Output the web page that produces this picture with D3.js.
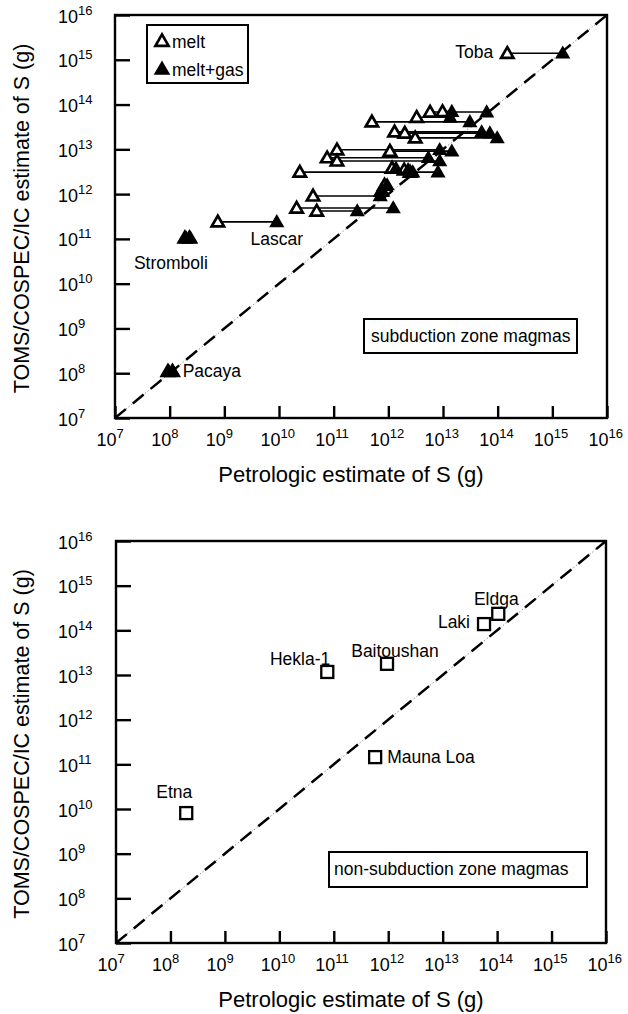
<!DOCTYPE html>
<html><head><meta charset="utf-8">
<script src="https://cdn.jsdelivr.net/npm/d3@7"></script>
<style>
body{margin:0;background:#fff}
text{font-family:"Liberation Sans",Arial,Helvetica,sans-serif;fill:#000}
</style>
</head><body>
<svg id="c" width="628" height="1014"></svg>
<script>
// ---------- data ----------
const decades = [7,8,9,10,11,12,13,14,15,16];
const xTitle = "Petrologic estimate of S (g)";
const yTitle = "TOMS/COSPEC/IC estimate of S (g)";

// subduction zone magmas: melt (open), melt+gas (filled), TOMS/COSPEC/IC estimate
const subNames   = ["Toba","","","","","","","","","","","","","","","","","","","","","Lascar","Stromboli","","Pacaya",""];
const subMelt    = [1.5e14,5.0e11,3.3e12,5.8e12,9.8e12,1.3e12,2.0e12,3.1e12,1.15e11,1.07e12,7.6e10,1.15e11,2.4e10,1.17e12,1.95e12,2.5e12,4.2e10,8.5e11,7.4e11,2.1e10,4.9e10,7.6e8,1.9e8,2.3e8,9.3e7,1.12e8];
const subMeltGas = [1.55e15,3.1e13,1.35e13,6.3e13,1.45e13,5.1e13,7.2e13,9.8e13,8.7e12,1.45e13,5.4e12,8.7e12,8.1e12,1.38e12,2.3e12,2.8e12,7.1e11,9.5e11,7.9e11,1.23e12,2.7e11,9.1e9,2.0e8,2.4e8,9.6e7,1.15e8];
const subToms    = [1.4e15,4.1e13,5.2e13,6.8e13,7.0e13,2.45e13,2.3e13,1.8e13,9.8e12,9.1e12,6.5e12,5.5e12,3.1e12,3.8e12,3.5e12,3.1e12,9.1e11,1.6e12,1.17e12,4.9e11,4.2e11,2.4e11,1.05e11,1.05e11,1.1e8,1.1e8];

// non-subduction zone magmas
const nonNames = ["Etna","Hekla-1","Baitoushan","Mauna Loa","Laki","Eldga"];
const nonPetro = [1.95e8,7.6e10,9.5e11,5.75e11,5.75e13,1.05e14];
const nonToms  = [8.1e9,1.17e13,1.78e13,1.45e11,1.38e14,2.34e14];

const legendLabels = ["melt","melt+gas"];
const boxLabels = ["subduction zone magmas","non-subduction zone magmas"];

// ---------- drawing ----------
const svg = d3.select("#c");
const FONT = '"Liberation Sans",Arial,Helvetica,sans-serif';

function panel(pl){
  const x = d3.scaleLog().domain([1e7,1e16]).range([pl.left,pl.right]);
  const y = d3.scaleLog().domain([1e7,1e16]).range([pl.bottom,pl.top]);
  const g = svg.append("g");
  const tv = decades.map(d=>Math.pow(10,d));

  const xa = d3.axisBottom(x).tickValues(tv).tickSizeInner(-12).tickSizeOuter(0).tickPadding(0).tickFormat("");
  const gx = g.append("g").attr("transform",`translate(0,${pl.bottom})`).call(xa)
    .attr("font-size",18).attr("font-family",FONT);
  gx.select(".domain").remove();
  gx.selectAll(".tick line").attr("stroke","#000").attr("stroke-width",2.4);
  gx.selectAll(".tick text").attr("y",28).attr("dy",null).attr("x",-19).attr("text-anchor","start")
    .each(function(d){
      const t=d3.select(this); const e=Math.round(Math.log10(d));
      t.append("tspan").text("10");
      t.append("tspan").attr("dy",-8).attr("font-size",13).text(e);
    });

  const ya = d3.axisLeft(y).tickValues(tv).tickSizeInner(-15).tickSizeOuter(0).tickPadding(0).tickFormat("");
  const gy = g.append("g").attr("transform",`translate(${pl.left},0)`).call(ya)
    .attr("font-size",18).attr("font-family",FONT);
  gy.select(".domain").remove();
  gy.selectAll(".tick line").attr("stroke","#000").attr("stroke-width",2.4);
  gy.selectAll(".tick text").attr("x",pl.labX-pl.left).attr("dy",null).attr("y",7).attr("text-anchor","start")
    .each(function(d){
      const t=d3.select(this); const e=Math.round(Math.log10(d));
      t.append("tspan").text("10");
      t.append("tspan").attr("dy",-8).attr("font-size",13).text(e);
    });

  // frame
  g.append("rect").attr("x",pl.left).attr("y",pl.top)
    .attr("width",pl.right-pl.left).attr("height",pl.bottom-pl.top)
    .attr("fill","none").attr("stroke","#000").attr("stroke-width",2.4);

  // 1:1 line
  g.append("line").attr("x1",x(1e7)).attr("y1",y(1e7)).attr("x2",x(1e16)).attr("y2",y(1e16))
    .attr("stroke","#777").attr("stroke-width",0.8).attr("stroke-dasharray","1.5,2");
  g.append("line").attr("x1",x(1e7)).attr("y1",y(1e7)).attr("x2",x(1e16)).attr("y2",y(1e16))
    .attr("stroke","#000").attr("stroke-width",2.5).attr("stroke-dasharray","14,9");

  // titles
  g.append("text").attr("x",(pl.left+pl.right)/2-10).attr("y",pl.bottom+64)
    .attr("text-anchor","middle").attr("font-size",22).text(xTitle);
  g.append("text").attr("transform",`translate(29,${(pl.top+pl.bottom)/2+2}) rotate(-90)`)
    .attr("text-anchor","middle").attr("font-size",21.5).text(yTitle);
  return {x,y,g};
}

// ---- top panel ----
const A = panel({left:115,right:607,top:15,bottom:418,labX:58});
const tri = (s)=>d3.symbol().type(d3.symbolTriangle).size(s)();
const idx = d3.range(subMelt.length);
A.g.append("g").selectAll("line").data(idx).join("line")
  .attr("x1",i=>A.x(subMelt[i])).attr("x2",i=>A.x(subMeltGas[i]))
  .attr("y1",i=>A.y(subToms[i])).attr("y2",i=>A.y(subToms[i]))
  .attr("stroke","#000").attr("stroke-width",1.6);
A.g.append("g").selectAll("path").data(idx).join("path")
  .attr("d",tri(66)).attr("transform",i=>`translate(${A.x(subMelt[i])},${A.y(subToms[i])+1})`)
  .attr("fill","#fff").attr("stroke","#000").attr("stroke-width",2.7).attr("stroke-linejoin","miter");
A.g.append("g").selectAll("path").data(idx).join("path")
  .attr("d",tri(100)).attr("transform",i=>`translate(${A.x(subMeltGas[i])},${A.y(subToms[i])+1})`)
  .attr("fill","#000");

const subLabelPos = {
  "Toba":{ref:"melt",dx:-14,dy:5,anchor:"end"},
  "Lascar":{ref:"gas",dx:0,dy:23,anchor:"middle"},
  "Stromboli":{ref:"melt",dx:-14,dy:31,anchor:"middle"},
  "Pacaya":{ref:"gas",dx:14,dy:6,anchor:"start"}
};
idx.filter(i=>subNames[i]).forEach(i=>{
  const p=subLabelPos[subNames[i]];
  const px = A.x(p.ref==="melt"?subMelt[i]:subMeltGas[i]);
  A.g.append("text").attr("x",px+p.dx).attr("y",A.y(subToms[i])+p.dy)
    .attr("text-anchor",p.anchor).attr("font-size",17.5).text(subNames[i]);
});

// legend
const lg = A.g.append("g");
lg.append("rect").attr("x",147).attr("y",25).attr("width",101).attr("height",58)
  .attr("fill","#fff").attr("stroke","#000").attr("stroke-width",2);
legendLabels.forEach((l,k)=>{
  const cy = 41 + k*28;
  lg.append("path").attr("d",tri(k?120:75)).attr("transform",`translate(162,${cy+1})`)
    .attr("fill",k?"#000":"#fff").attr("stroke",k?"none":"#000").attr("stroke-width",2.7);
  lg.append("text").attr("x",172).attr("y",cy+7).attr("font-size",17.5).text(l);
});
// region box
A.g.append("rect").attr("x",364).attr("y",319).attr("width",213).attr("height",34)
  .attr("fill","#fff").attr("stroke","#000").attr("stroke-width",2);
A.g.append("text").attr("x",371).attr("y",342).attr("font-size",17.5).text(boxLabels[0]);

// ---- bottom panel ----
const B = panel({left:116,right:606,top:541,bottom:943,labX:58});
const nidx = d3.range(nonPetro.length);
B.g.append("g").selectAll("rect").data(nidx).join("rect")
  .attr("x",i=>B.x(nonPetro[i])-6).attr("y",i=>B.y(nonToms[i])-6)
  .attr("width",12).attr("height",12)
  .attr("fill","#fff").attr("stroke","#000").attr("stroke-width",2.3);
const nonLabelPos = {
  "Etna":{dx:-12,dy:-15,anchor:"middle"},
  "Hekla-1":{dx:3,dy:-7,anchor:"end"},
  "Baitoushan":{dx:8,dy:-7,anchor:"middle"},
  "Mauna Loa":{dx:12,dy:6,anchor:"start"},
  "Laki":{dx:-14,dy:4,anchor:"end"},
  "Eldga":{dx:-2,dy:-9,anchor:"middle"}
};
nidx.forEach(i=>{
  const p=nonLabelPos[nonNames[i]];
  B.g.append("text").attr("x",B.x(nonPetro[i])+p.dx).attr("y",B.y(nonToms[i])+p.dy)
    .attr("text-anchor",p.anchor).attr("font-size",17.5).text(nonNames[i]);
});
B.g.append("rect").attr("x",329).attr("y",852).attr("width",258).attr("height",35)
  .attr("fill","#fff").attr("stroke","#000").attr("stroke-width",2);
B.g.append("text").attr("x",334).attr("y",875).attr("font-size",17.5).text(boxLabels[1]);
</script>
</body></html>
